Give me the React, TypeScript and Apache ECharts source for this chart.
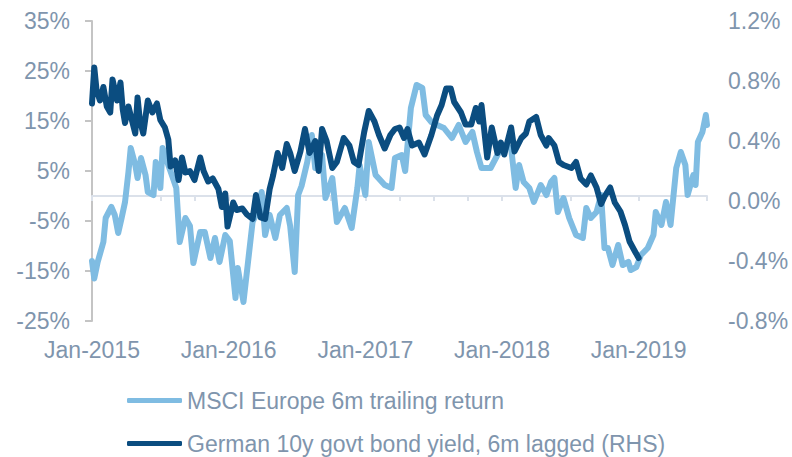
import React, { useEffect, useRef } from "react";
import * as echarts from "echarts";

// x positions are months since Jan-2015
const msciMonths = [0,0.2,0.5,1.0,1.2,1.7,2.0,2.3,2.6,2.9,3.2,3.4,3.8,4.0,4.3,4.7,4.9,5.4,5.6,6.0,6.2,6.7,7.1,7.4,7.7,8.2,8.6,8.9,9.5,9.9,10.4,10.8,11.2,11.7,12.1,12.6,12.8,13.3,13.7,14.1,14.5,14.9,15.2,15.6,16.1,16.5,17.1,17.4,17.8,18.1,18.4,18.9,19.3,19.6,20.2,20.5,21.1,21.5,22.2,22.8,23.3,23.5,24.0,24.3,24.9,25.7,26.3,26.6,27.2,27.5,28.0,28.5,29.0,29.3,29.8,30.3,30.9,31.6,32.2,32.8,33.4,33.8,34.2,35.0,35.6,36.1,36.8,37.2,37.5,37.9,38.4,38.8,39.4,39.9,40.3,40.6,40.9,41.4,41.9,42.5,43.1,43.4,43.8,44.3,44.7,45.0,45.3,45.7,46.2,46.6,47.1,47.3,47.8,48.2,48.8,49.3,49.5,50.0,50.4,50.8,51.3,51.7,52.1,52.3,52.8,53.0,53.2,53.6,53.9,54.0];
const msciValues = [-13,-16.5,-13.2,-9.2,-4.4,-2.2,-3.8,-7.4,-4.4,-1.2,4.8,9.6,6.2,3.6,7.6,4.2,0.8,0.2,6.8,1.6,9.6,6.2,3.6,1.6,-9.2,-4.4,-6,-13.4,-7.2,-7.2,-12.4,-8.4,-13.2,-7.8,-9,-20.4,-14.4,-21.2,-13.2,-5.2,-3.2,0.8,-7.8,-3.8,-8.4,-3.8,-2.4,-6,-15.2,0.2,2,6.8,12.2,5.6,8.2,-0.4,3.6,-5.2,-2.4,-6.4,1.6,6.2,0.2,10.8,4.2,2.2,1.6,7.6,8.2,5,17.6,22.2,21.6,16.2,14.8,14.2,13.6,11.6,14.2,10.8,12.8,8.8,5.6,5.6,8.2,10.2,9.6,1.6,6.2,2.8,1.6,-1.2,2.2,0.2,2.8,3.6,-3.2,-0.4,-4.4,-7.8,-8.4,-2.4,-4.4,-3.2,0.2,-10.4,-10.4,-13.8,-9.8,-13.8,-13.2,-14.8,-14.2,-11.8,-10.4,-7.8,-3.2,-5.8,-1.2,-5.8,5.6,8.8,6.2,0.2,4.2,2.2,10.8,12.8,16.2,14.2];

const bundMonths = [0,0.2,0.4,0.7,1.0,1.3,1.6,1.8,2.2,2.5,2.7,2.9,3.2,3.5,3.8,4.0,4.2,4.5,4.9,5.3,5.7,6.0,6.4,6.7,6.9,7.3,7.6,7.9,8.2,8.6,9.0,9.5,9.8,10.2,10.6,11.1,11.4,11.7,11.9,12.4,12.7,13.2,13.6,14.1,14.4,14.8,15.2,15.6,15.9,16.3,16.7,17.1,17.4,17.8,18.3,18.7,19.1,19.6,19.9,20.2,20.6,21.1,21.5,22.1,22.6,23.0,23.4,23.9,24.3,24.8,25.2,25.7,26.2,26.6,27.0,27.4,27.7,28.1,28.7,29.2,29.8,30.3,30.7,31.1,31.5,31.8,32.4,32.8,33.3,33.7,34.0,34.2,34.7,35.1,35.6,35.9,36.2,36.8,37.1,37.7,38.1,38.4,39.0,39.4,39.9,40.1,40.6,41.0,41.4,42.1,42.5,42.9,43.4,43.8,44.3,44.7,45.0,45.5,45.9,46.4,46.8,47.2,47.7,48.0];
const bundValues = [0.65,0.89,0.74,0.67,0.76,0.63,0.59,0.81,0.67,0.79,0.61,0.52,0.63,0.54,0.45,0.69,0.54,0.45,0.67,0.59,0.65,0.54,0.49,0.41,0.23,0.27,0.14,0.29,0.19,0.2,0.14,0.29,0.2,0.13,0.15,0.08,-0.04,0.05,-0.17,-0.01,-0.06,-0.05,-0.09,-0.12,0.04,-0.11,-0.12,0.08,0.17,0.32,0.22,0.38,0.32,0.2,0.33,0.48,0.32,0.4,0.2,0.48,0.4,0.22,0.26,0.42,0.37,0.26,0.24,0.46,0.6,0.53,0.44,0.35,0.44,0.48,0.49,0.42,0.48,0.37,0.39,0.31,0.44,0.57,0.64,0.75,0.75,0.66,0.59,0.51,0.51,0.62,0.53,0.64,0.29,0.49,0.32,0.39,0.31,0.49,0.33,0.42,0.45,0.53,0.56,0.44,0.37,0.42,0.37,0.26,0.24,0.22,0.26,0.15,0.11,0.17,0.09,-0.02,0.03,0.09,-0.01,-0.07,-0.16,-0.27,-0.34,-0.38];

const seriesNames = ["MSCI Europe 6m trailing return", "German 10y govt bond yield, 6m lagged (RHS)"];
const startYear = 2015;

const TEXT = "#7f95ad";
const LIGHT = "#7fbce2";
const DARK = "#0b4d80";
const FONT = "Liberation Sans, Arial, sans-serif";

export default function App() {
  const ref = useRef<HTMLDivElement>(null);
  useEffect(() => {
    if (!ref.current) return;
    const chart = echarts.init(ref.current, null, { renderer: "svg" });
    const msciData = msciMonths.map((m, i) => [m, msciValues[i]]);
    const bundData = bundMonths.map((m, i) => [m, bundValues[i]]);
    chart.setOption({
      animation: false,
      grid: { left: 92, right: 85, top: 21, bottom: 136, containLabel: false },
      legend: {
        orient: "vertical",
        left: 127,
        top: 389,
        height: 68,
        padding: 0,
        itemWidth: 55,
        itemHeight: 5,
        itemGap: 20,
        icon: "roundRect",
        textStyle: { color: TEXT, fontSize: 23, fontFamily: FONT, lineHeight: 23 },
        data: seriesNames,
      },
      xAxis: [
        {
          type: "value",
          min: 0,
          max: 54,
          interval: 3,
          axisLine: { show: true, onZero: true, onZeroAxisIndex: 0, lineStyle: { color: "#dbe1ea", width: 2 } },
          axisTick: { show: true, length: 5, lineStyle: { color: "#dbe1ea", width: 2 } },
          axisLabel: { show: false },
          splitLine: { show: false },
        },
        {
          type: "value",
          min: 0,
          max: 54,
          interval: 12,
          position: "bottom",
          axisLine: { show: false, onZero: false },
          axisTick: { show: false },
          splitLine: { show: false },
          axisLabel: {
            show: true,
            margin: 17,
            color: TEXT,
            fontSize: 23,
            fontFamily: FONT,
            formatter: (v: number) => (v % 12 === 0 ? "Jan-" + (startYear + v / 12) : ""),
          },
        },
      ],
      yAxis: [
        {
          type: "value",
          min: -25,
          max: 35,
          interval: 10,
          axisLine: { show: true, lineStyle: { color: "#c4c4c4", width: 2 } },
          axisTick: { show: true, length: 7, lineStyle: { color: "#c4c4c4", width: 2 } },
          splitLine: { show: false },
          axisLabel: { margin: 22, color: TEXT, fontSize: 23, fontFamily: FONT, formatter: (v: number) => v + "%" },
        },
        {
          type: "value",
          min: -0.8,
          max: 1.2,
          interval: 0.4,
          position: "right",
          axisLine: { show: false },
          axisTick: { show: false },
          splitLine: { show: false },
          axisLabel: { margin: 21, color: TEXT, fontSize: 23, fontFamily: FONT, formatter: (v: number) => v.toFixed(1) + "%" },
        },
      ],
      series: [
        {
          name: seriesNames[0],
          type: "line",
          xAxisIndex: 0,
          yAxisIndex: 0,
          data: msciData,
          showSymbol: false,
          symbol: "none",
          color: LIGHT,
          lineStyle: { color: LIGHT, width: 6, cap: "round", join: "round" },
        },
        {
          name: seriesNames[1],
          type: "line",
          xAxisIndex: 0,
          yAxisIndex: 1,
          data: bundData,
          showSymbol: false,
          symbol: "none",
          color: DARK,
          lineStyle: { color: DARK, width: 6, cap: "round", join: "round" },
        },
      ],
    });
    return () => chart.dispose();
  }, []);
  return <div ref={ref} style={{ width: 792, height: 457, position: "absolute", left: 0, top: 0 }} />;
}
